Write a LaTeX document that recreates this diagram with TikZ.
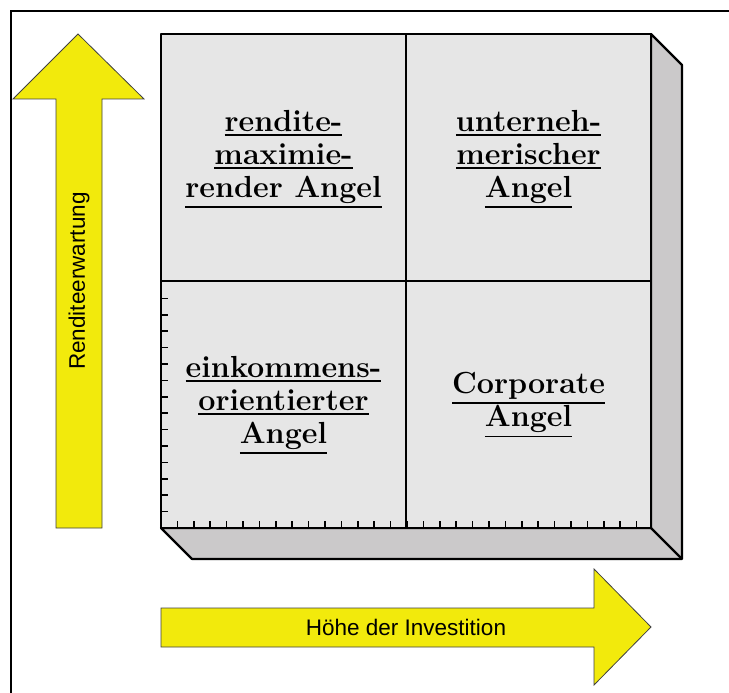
\documentclass[tikz,border=0pt]{standalone}
\usepackage{fontspec}
\newfontfamily\arialfont{Liberation Sans}
\definecolor{arrowyellow}{RGB}{242,234,12}
\definecolor{facegray}{RGB}{230,230,230}
\definecolor{sidegray}{RGB}{203,201,202}
\newcommand\cellline[1]{\vtop{\hbox{#1}\kern2.6pt\hrule height1.9pt}}

\begin{document}
\begin{tikzpicture}[x=1pt, y=-1pt,
        face/.style={draw, line width=2.2pt, line join=round},
        tick/.style={line width=1.6pt},
        bigarrow/.style={fill=arrowyellow, draw=black!75, line width=0.8pt},
        axislabel/.style={font=\arialfont\fontsize{22.5}{26}\selectfont},
        cell/.style={align=center, font=\fontsize{30.5}{33}\selectfont\bfseries}]
    \useasboundingbox (0,0) rectangle (729,693);
    \clip (0,0) rectangle (729,693);
    % frame
    \draw[line width=2.4pt] (11,11) rectangle (760,720);
    % box
    \coordinate (tl) at (161,34);
    \coordinate (tr) at (651,34);
    \coordinate (br) at (651,528);
    \coordinate (bl) at (161,528);
    \draw[face, fill=sidegray] (tr) -- ++(31,31) -- (682,559) -- (192,559) -- (bl) -- (br) -- cycle;
    \draw[face] (br) -- ++(31,31);
    \draw[face, fill=facegray] (tl) rectangle (br);
    \draw[line width=1.8pt] (406,34) -- (406,528) (161,281) -- (651,281);
    \foreach \k in {1,...,14}
        \draw[tick] (161,528-16.4*\k) -- +(7,0);
    \foreach \k in {1,...,29}
        \draw[tick] (161+16.4*\k,528) -- +(0,-7);
    % arrows
    \draw[bigarrow] (56,528) -- (56,99) -- (13,99) -- (78,34) -- (144,99) -- (102,99) -- (102,528) -- cycle;
    \node[axislabel, rotate=90] (rendite) at (79,281) {Renditeerwartung};
    \draw[bigarrow] (161,608) -- (594,608) -- (594,569) -- (651,627) -- (594,685) -- (594,647) -- (161,647) -- cycle;
    \node[axislabel] (hoehe) at (406,627.5) {Höhe der Investition};
    % quadrants
    \node[cell] (rendang) at (283.5,159) {\cellline{rendite-}\\\cellline{maximie-}\\\cellline{render Angel}};
    \node[cell] (untang) at (528.5,159) {\cellline{unterneh-}\\\cellline{merischer}\\\cellline{Angel}};
    \node[cell] (einkang) at (283.5,405) {\cellline{einkommens-}\\\cellline{orientierter}\\\cellline{Angel}};
    \node[cell] (corpang) at (528.5,405) {\cellline{Corporate}\\\cellline{Angel}};
\end{tikzpicture}
\end{document}
